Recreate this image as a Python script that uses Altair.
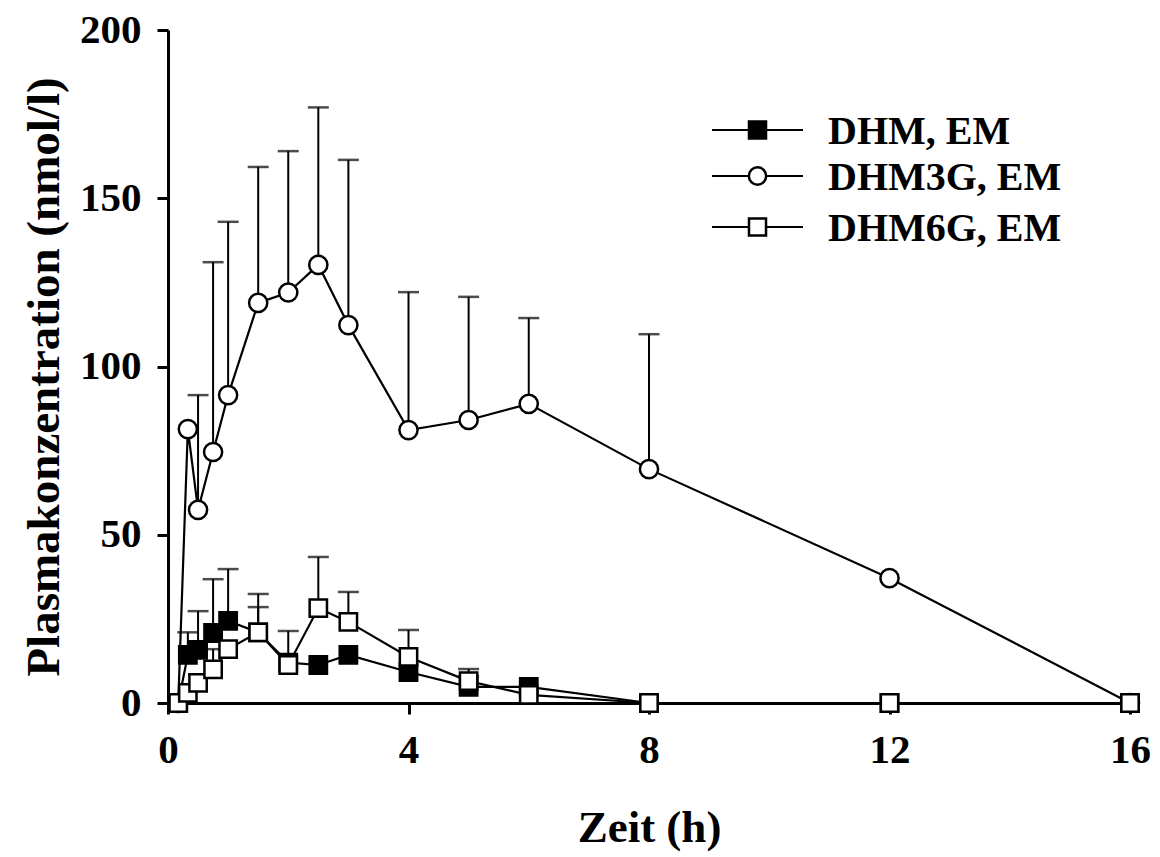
import altair as alt
import pandas as pd

# Sampling times (h)
times = [0.17, 0.33, 0.5, 0.75, 1, 1.5, 2, 2.5, 3, 4, 5, 6, 8, 12, 16]

# Mean plasma concentrations (nmol/l)
dhm = [0, 14.3, 15.8, 20.8, 24.4, 21, 12, 11.3, 14.3, 9.2, 4.8, 4.8, 0, 0, 0]
dhm3g = [0, 81.4, 57.4, 74.6, 91.5, 118.9, 122, 130.2, 112.3, 81.1, 84.1, 88.9, 69.5, 37.1, 0]
dhm6g = [0, 3, 6, 10, 16, 21, 11.3, 28.2, 24.1, 13.7, 6.5, 2.4, 0, 0, 0]

# Upper end of the SD bars (None = no bar shown)
dhm_sd = [None, 21, 27.3, 36.8, 39.8, 28.5, 21.4, None, None, None, 8, None, None, None, None]
dhm3g_sd = [None, None, 91.5, 131, 143, 159.3, 164, 177, 161.4, 122.1, 120.7, 114.4, 109.6, None, None]
dhm6g_sd = [None, None, None, 16, None, 32.4, None, 43.4, 33, 21.7, 10.1, None, None, None, None]

series = [
    ("DHM, EM", dhm, dhm_sd, "square", "black"),
    ("DHM3G, EM", dhm3g, dhm3g_sd, "circle", "white"),
    ("DHM6G, EM", dhm6g, dhm6g_sd, "square", "white"),
]

FONT = "Liberation Serif"
W, H = 962, 673

x_scale = alt.Scale(domain=[0, 16], nice=False, zero=False)
y_scale = alt.Scale(domain=[0, 200], nice=False)

x_axis = alt.Axis(
    values=[0, 4, 8, 12, 16], format="d", title="Zeit (h)", grid=False,
    domainColor="black", domainWidth=3, tickColor="black", tickWidth=3, tickSize=11,
    labelFont=FONT, labelFontSize=41, labelFontWeight="bold", labelColor="black",
    labelPadding=16, labelFlush=False,
    titleFont=FONT, titleFontSize=45, titleFontWeight="bold", titleColor="black",
    titleX=W / 2, titleY=124, titleBaseline="middle", titleAlign="center",
)
y_axis = alt.Axis(
    values=[0, 50, 100, 150, 200], format="d", title="Plasmakonzentration (nmol/l)", grid=False,
    domainColor="black", domainWidth=3, tickColor="black", tickWidth=3, tickSize=11,
    labelFont=FONT, labelFontSize=41, labelFontWeight="bold", labelColor="black",
    labelPadding=16,
    titleFont=FONT, titleFontSize=47, titleFontWeight="bold", titleColor="black",
    titleX=-124, titleY=H / 2 + 10, titleAngle=-90, titleBaseline="middle", titleAlign="center",
)

rows = []
for name, vals, sds, shape, fill in series:
    for t, v, s in zip(times, vals, sds):
        rows.append({"series": name, "t": t, "c": v, "sd_top": s, "shape": shape, "fill": fill})
df = pd.DataFrame(rows)

base = alt.Chart(df)
xenc = alt.X("t:Q", scale=x_scale, axis=x_axis)
yenc = alt.Y("c:Q", scale=y_scale, axis=y_axis)

layers = []

# SD bars: stem and cap
err = base.transform_filter("isValid(datum.sd_top)")
layers.append(err.mark_rule(color="black", strokeWidth=2).encode(
    x=alt.X("t:Q", scale=x_scale), y=alt.Y("c:Q", scale=y_scale), y2="sd_top:Q"))
layers.append(err.mark_tick(orient="horizontal", size=21, thickness=2.5, color="black").encode(
    x=alt.X("t:Q", scale=x_scale), y=alt.Y("sd_top:Q", scale=y_scale)))

# Connecting lines
for name, *_ in series:
    layers.append(base.transform_filter(alt.datum.series == name).mark_line(
        color="black", strokeWidth=2.2).encode(x=xenc, y=yenc))

# Markers, drawn in order so open squares sit on top
for name, vals, sds, shape, fill in [series[1], series[0], series[2]]:
    size = 330 if shape == "circle" else 300
    layers.append(base.transform_filter(alt.datum.series == name).mark_point(
        shape=shape, filled=True, fill=fill, stroke="black", strokeWidth=2.5,
        size=size, opacity=1).encode(x=xenc, y=yenc))

# Legend block
legend_rows = [("DHM, EM", "square", "black", 100),
               ("DHM3G, EM", "circle", "white", 146),
               ("DHM6G, EM", "square", "white", 197)]
one = pd.DataFrame({"k": [0]})
for label, shape, fill, ly in legend_rows:
    layers.append(alt.Chart(one).mark_rule(color="black", strokeWidth=2.2).encode(
        x=alt.value(544), x2=alt.value(635), y=alt.value(ly)))
    layers.append(alt.Chart(one).mark_point(
        shape=shape, filled=True, fill=fill, stroke="black", strokeWidth=2.5,
        size=300 if shape == "circle" else 290, opacity=1).encode(
        x=alt.value(589.5), y=alt.value(ly)))
    layers.append(alt.Chart(one).mark_text(
        text=label, font=FONT, fontSize=40, fontWeight="bold", color="black",
        align="left", baseline="middle").encode(x=alt.value(660), y=alt.value(ly + 2)))

chart = alt.layer(*layers).properties(
    width=W, height=H,
    autosize=alt.AutoSizeParams(type="none"),
    padding={"left": 168, "top": 30, "right": 30, "bottom": 154},
    background="white",
).configure_view(stroke=None)

chart.save("out.html", embed_options={"renderer": "svg", "actions": False})
